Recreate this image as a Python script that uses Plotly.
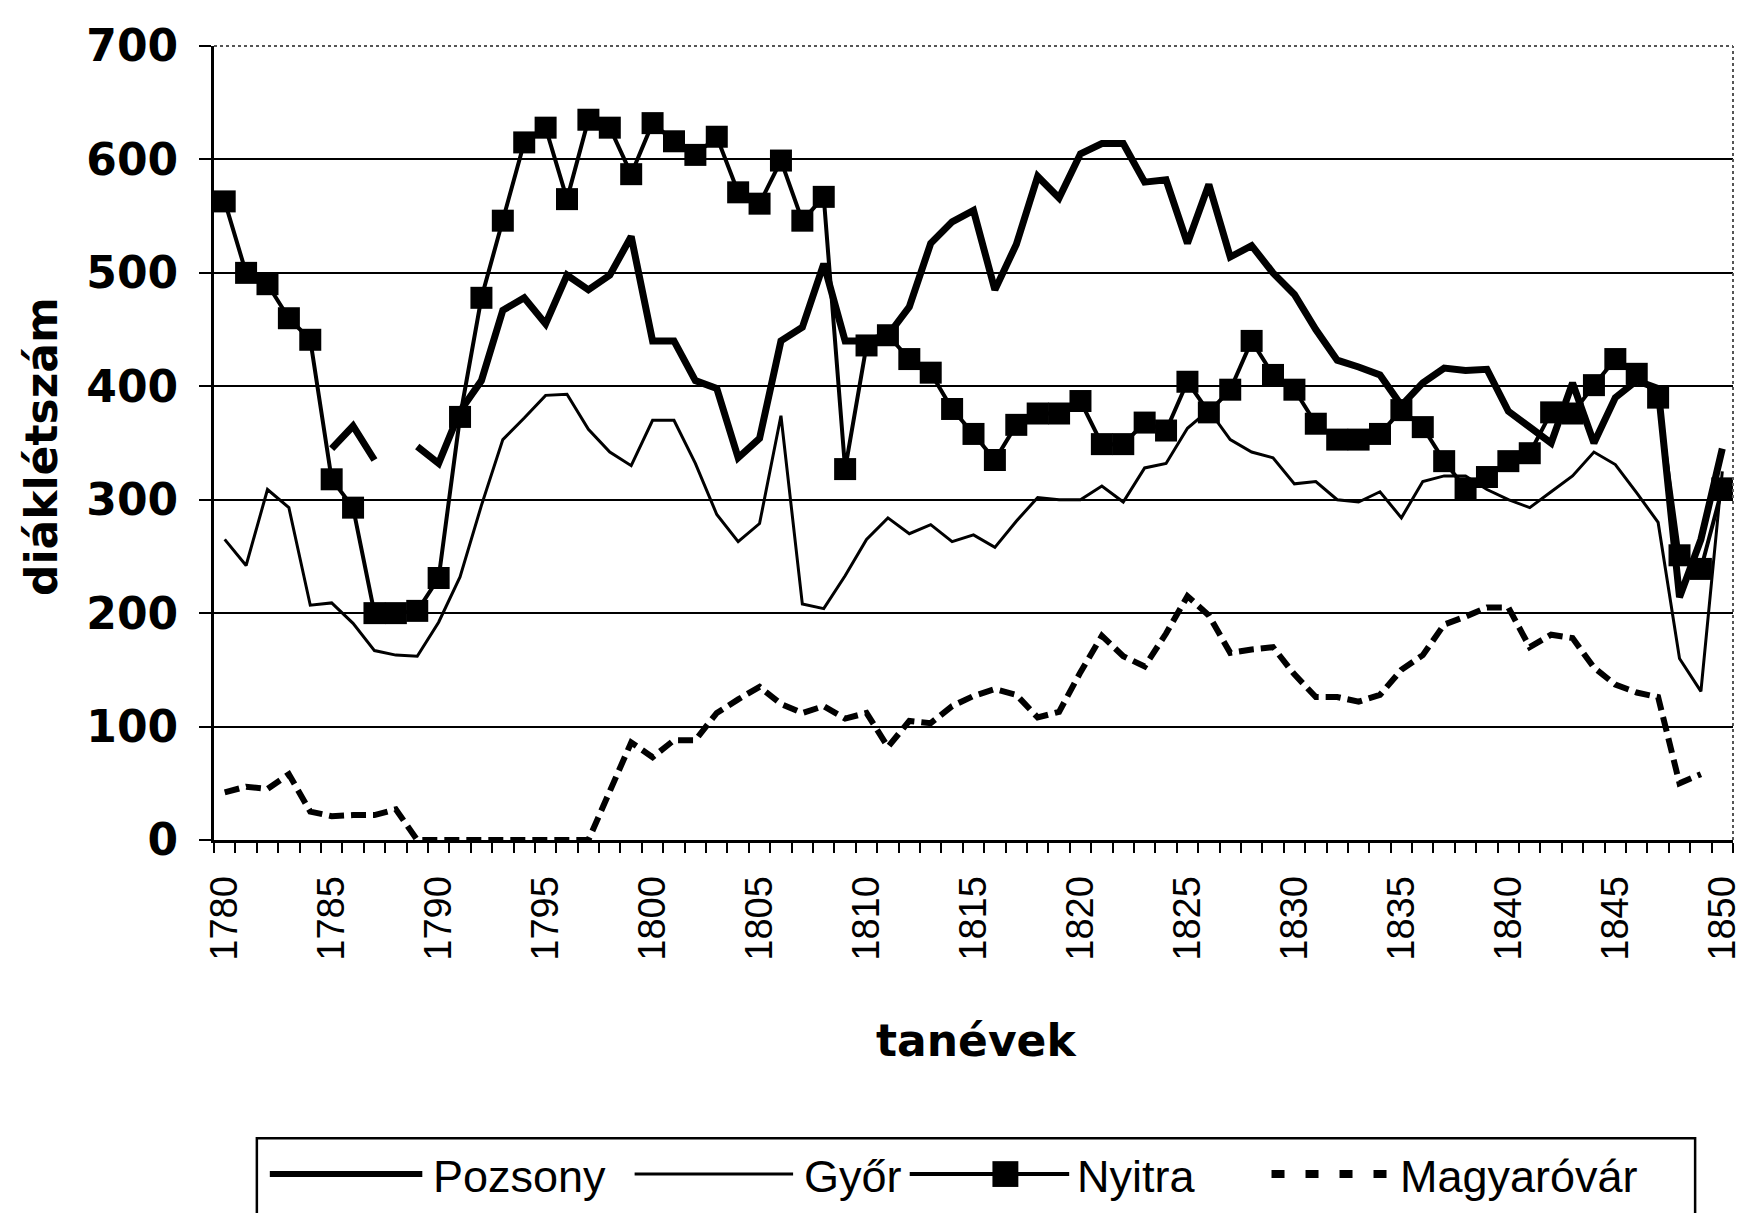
import plotly.graph_objects as go

# tanévek 1780-1850, diáklétszám iskolánként
years = list(range(1780, 1851))

pozsony = [None, None, None, None, None, 345, 365, 335, None, 347,
           332, 378, 405, 467, 478, 455, 498, 485, 498, 532,
           440, 440, 405, 398, 337, 354, 440, 452, 508, 440,
           440, 445, 470, 526, 545, 555, 485, 525, 585, 566,
           605, 614, 614, 580, 582, 526, 578, 514, 524, 500,
           481, 450, 423, 417, 410, 383, 403, 416, 414, 415,
           378, 364, 350, 403, 350, 390, 405, 398, 214, 265,
           345]

gyor = [265, 242, 309, 293, 207, 209, 191, 167, 163, 162,
        192, 232, 295, 353, 372, 392, 393, 362, 342, 330,
        370, 370, 332, 287, 263, 279, 374, 208, 204, 233,
        265, 284, 270, 278, 263, 269, 258, 281, 302, 300,
        300, 312, 298, 328, 332, 363, 379, 353, 342, 337,
        314, 316, 300, 298, 307, 284, 316, 321, 321, 309,
        300, 293, 307, 321, 342, 331, 306, 280, 160, 131,
        325]

nyitra = [563, 500, 490, 460, 441, 318, 293, 200, 200, 202,
          231, 373, 478, 546, 615, 628, 565, 635, 628, 587,
          632, 616, 604, 620, 571, 561, 599, 546, 567, 327,
          436, 445, 424, 412, 380, 358, 335, 366, 376, 376,
          387, 349, 349, 368, 361, 404, 377, 397, 440, 410,
          397, 367, 353, 353, 358, 379, 364, 334, 310, 320,
          334, 341, 377, 376, 401, 424, 411, 390, 251, 239,
          310]

magyarovar = [42, 47, 45, 58, 25, 21, 22, 22, 27, 0,
              0, 0, 0, 0, 0, 0, 0, 0, 43, 86,
              73, 88, 88, 112, 124, 135, 120, 112, 118, 107,
              112, 82, 105, 103, 118, 127, 133, 128, 108, 113,
              148, 180, 162, 153, 182, 215, 198, 165, 168, 170,
              146, 126, 126, 122, 128, 150, 163, 190, 197, 205,
              205, 170, 181, 178, 152, 137, 130, 126, 50, 58,
              None]

year_ticks = list(range(1780, 1851, 5))
y_ticks = list(range(0, 701, 100))

W, H = 1747, 1213
OFF = 8  # a böngésző body-margója eltolja az ábrát
L, T = 214 - OFF, 39 - OFF
PW, PH = 1524, 801
R, B = W - L - PW, H - T - PH


def px_x(x):
    # képernyő-pixel -> paper koordináta
    return (x - OFF - L) / PW


def px_y(y):
    return (T + PH - (y - OFF)) / PH


fig = go.Figure()
fig.add_trace(go.Scatter(x=years, y=pozsony, name="Pozsony", mode="lines",
                         line=dict(color="black", width=7)))
fig.add_trace(go.Scatter(x=years, y=gyor, name="Győr", mode="lines",
                         line=dict(color="black", width=3)))
fig.add_trace(go.Scatter(x=years, y=nyitra, name="Nyitra", mode="lines+markers",
                         line=dict(color="black", width=4),
                         marker=dict(symbol="square", size=22, color="black")))
fig.add_trace(go.Scatter(x=years, y=magyarovar, name="Magyaróvár", mode="lines",
                         line=dict(color="black", width=6, dash="15px,7px")))

shapes = [
    # fehér takarás a 700-as rácsvonalon, helyette pontozott keret
    dict(type="line", xref="paper", yref="paper", x0=0.002, x1=1, y0=1, y1=1,
         line=dict(color="white", width=4)),
    dict(type="line", xref="paper", yref="paper", x0=0, x1=1, y0=1, y1=1,
         line=dict(color="#555", width=2, dash="dot")),
    dict(type="line", xref="paper", yref="paper", x0=1, x1=1, y0=0, y1=1,
         line=dict(color="#555", width=2, dash="dot")),
]

# kézzel rajzolt jelmagyarázat
ly = 1177
shapes += [
    dict(type="rect", xref="paper", yref="paper", x0=px_x(257), x1=px_x(1700),
         y0=px_y(1141), y1=px_y(1260), line=dict(color="black", width=2.5)),
    dict(type="line", xref="paper", yref="paper", x0=px_x(270), x1=px_x(423),
         y0=px_y(ly), y1=px_y(ly), line=dict(color="black", width=6)),
    dict(type="line", xref="paper", yref="paper", x0=px_x(636), x1=px_x(795),
         y0=px_y(ly), y1=px_y(ly), line=dict(color="black", width=3)),
    dict(type="line", xref="paper", yref="paper", x0=px_x(912), x1=px_x(1072),
         y0=px_y(ly), y1=px_y(ly), line=dict(color="black", width=4)),
    dict(type="rect", xref="paper", yref="paper", x0=px_x(995), x1=px_x(1021),
         y0=px_y(ly + 13), y1=px_y(ly - 13), fillcolor="black", line=dict(width=0)),
    dict(type="line", xref="paper", yref="paper", x0=px_x(1275), x1=px_x(1392),
         y0=px_y(ly), y1=px_y(ly), line=dict(color="black", width=8, dash="13px,21px")),
]

legend_font = dict(family="Liberation Sans", size=45, color="black")
annotations = [
    dict(text=name, xref="paper", yref="paper", x=px_x(x0), y=px_y(ly + 2),
         xanchor="left", yanchor="middle", showarrow=False, font=legend_font)
    for name, x0 in [("Pozsony", 432), ("Győr", 804), ("Nyitra", 1078), ("Magyaróvár", 1402)]
]
annotations += [
    dict(text="diáklétszám", xref="paper", yref="paper", x=px_x(41), y=px_y(443),
         textangle=-90, showarrow=False, xanchor="center", yanchor="middle",
         font=dict(family="DejaVu Sans", size=44, color="black", weight="bold")),
    dict(text="tanévek", xref="paper", yref="paper", x=px_x(979), y=px_y(1042),
         showarrow=False, xanchor="center", yanchor="middle",
         font=dict(family="DejaVu Sans", size=44, color="black", weight="bold")),
]

fig.update_layout(
    width=W, height=H,
    margin=dict(l=L, r=R, t=T, b=B),
    paper_bgcolor="white", plot_bgcolor="white",
    showlegend=False,
    shapes=shapes,
    annotations=annotations,
)
fig.update_xaxes(
    range=[1779.5, 1850.5], tickvals=year_ticks, tickangle=-90,
    ticks="", showgrid=False, zeroline=False,
    showline=True, linecolor="black", linewidth=3,
    tickfont=dict(family="Liberation Sans Narrow, Liberation Sans", size=38, color="black"),
    ticklabelstandoff=18,
    minor=dict(tick0=1779.5, dtick=1, ticks="outside", ticklen=10,
               tickwidth=2, tickcolor="black", showgrid=False),
)
fig.update_yaxes(
    range=[0, 700], tickvals=y_ticks,
    ticks="outside", ticklen=12, tickwidth=2, tickcolor="black",
    showgrid=True, gridcolor="black", gridwidth=2, zeroline=False,
    showline=True, linecolor="black", linewidth=3,
    tickfont=dict(family="DejaVu Sans", size=44, color="black", weight="bold"),
    ticklabelstandoff=12,
)

fig.write_html("out.html")
